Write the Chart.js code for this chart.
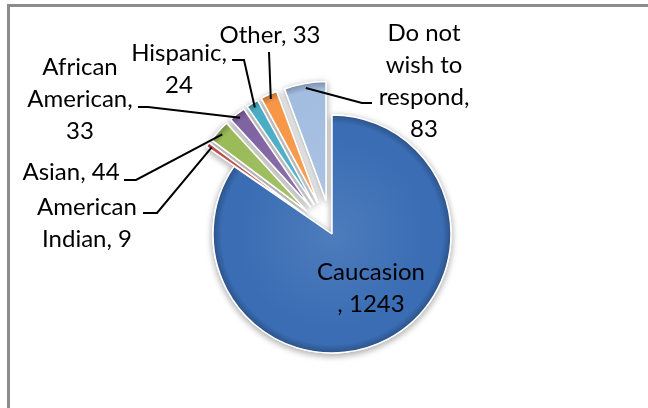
<!DOCTYPE html>
<html>
<head>
<meta charset="utf-8">
<script src="https://cdn.jsdelivr.net/npm/chart.js@4.4.1/dist/chart.umd.min.js"></script>
<style>
  body { margin: 0; background: #fff; }
  #wrap { position: relative; width: 648px; height: 408px; overflow: hidden; }
  #frame { position: absolute; left: 7px; top: 4px; width: 700px; height: 500px;
           border-left: 3px solid #8c8c8c; border-top: 3px solid #8c8c8c; }
  canvas { position: absolute; left: 0; top: 0; }
</style>
</head>
<body>
<div id="wrap"><div id="frame"></div><canvas id="myChart" width="648" height="408"></canvas></div>
<script>
var categories = ["Caucasion", "American Indian", "Asian", "African American", "Hispanic", "Other", "Do not wish to respond"];
var values = [1243, 9, 44, 33, 24, 33, 83];
var colors = ["#3A6DB4", "#C0504D", "#9BBB59", "#8064A2", "#4BACC6", "#F79646", "#A3BDE0"];

// label text, broken the way the original wraps it
var labelLines = [
  ["Caucasion", ", " + values[0]],
  ["American", "Indian, " + values[1]],
  ["Asian, " + values[2]],
  ["African", "American,", "" + values[3]],
  ["Hispanic,", "" + values[4]],
  ["Other, " + values[5]],
  ["Do not", "wish to", "respond,", "" + values[6]]
];

var pieRadius = 119;
var explodeGap = 34;
var lineH = 32;

// where each label sits, and the elbow of its leader line
var labelPos = [
  { x: 371, y: 272, lead: null },
  { x: 87, y: 207, lead: [[143, 213], [157, 213]] },
  { x: 71, y: 172, lead: [[124, 180], [136, 180]] },
  { x: 80, y: 67, lead: [[138, 107], [148, 107]] },
  { x: 179, y: 53, lead: [[232, 60], [244, 60]] },
  { x: 270, y: 35, lead: [[269, 52]] },
  { x: 424, y: 33, lead: [[372, 103], [362, 103]] }
];

function shade(hex, f) {
  var n = parseInt(hex.slice(1), 16);
  var r = n >> 16, g = (n >> 8) & 255, b = n & 255;
  var t = f < 0 ? 0 : 255, p = Math.abs(f);
  r = Math.round(r + (t - r) * p); g = Math.round(g + (t - g) * p); b = Math.round(b + (t - b) * p);
  return "rgb(" + r + "," + g + "," + b + ")";
}

function sliceFill(c) {
  var base = colors[c.dataIndex];
  var ca = c.chart.chartArea;
  if (!ca) return base;
  var cx = (ca.left + ca.right) / 2, cy = (ca.top + ca.bottom) / 2;
  var g = c.chart.ctx.createRadialGradient(cx, cy, 0, cx, cy, pieRadius);
  g.addColorStop(0, shade(base, 0.1));
  g.addColorStop(0.8, base);
  g.addColorStop(0.93, base);
  g.addColorStop(1, shade(base, -0.25));
  return g;
}

var explodePie = {
  id: "explodePie",
  beforeDatasetDraw: function(chart, args) {
    var ctx = chart.ctx;
    var arcs = args.meta.data;
    [true, false].forEach(function(shadow) {
      arcs.forEach(function(arc, i) {
        var mid = (arc.startAngle + arc.endAngle) / 2;
        var d = i === 0 ? 0 : explodeGap;
        ctx.save();
        if (shadow) {
          ctx.shadowColor = "rgba(0,0,0,0.35)";
          ctx.shadowBlur = 7;
          ctx.shadowOffsetY = 2;
        }
        ctx.translate(Math.cos(mid) * d, Math.sin(mid) * d);
        arc.draw(ctx);
        ctx.restore();
      });
    });
    return false;
  },
  afterDraw: function(chart) {
    var ctx = chart.ctx;
    var arcs = chart.getDatasetMeta(0).data;
    ctx.save();
    ctx.strokeStyle = "#000";
    ctx.lineWidth = 2;
    arcs.forEach(function(arc, i) {
      var p = labelPos[i];
      if (!p.lead) return;
      var mid = (arc.startAngle + arc.endAngle) / 2;
      var d = (i === 0 ? 0 : explodeGap) + arc.outerRadius * 0.96;
      ctx.beginPath();
      ctx.moveTo(p.lead[0][0], p.lead[0][1]);
      for (var k = 1; k < p.lead.length; k++) ctx.lineTo(p.lead[k][0], p.lead[k][1]);
      ctx.lineTo(arc.x + Math.cos(mid) * d, arc.y + Math.sin(mid) * d);
      ctx.stroke();
    });
    ctx.font = "24px Lato";
    ctx.fillStyle = "#000";
    ctx.textAlign = "center";
    ctx.textBaseline = "middle";
    labelLines.forEach(function(lines, i) {
      lines.forEach(function(t, k) {
        ctx.fillText(t, labelPos[i].x, labelPos[i].y + k * lineH);
      });
    });
    ctx.restore();
  }
};

var ctx1 = document.getElementById("myChart");
var chart1 = new Chart(ctx1, {
  type: "pie",
  data: {
    labels: categories,
    datasets: [{
      data: values,
      backgroundColor: sliceFill,
      borderColor: "#ffffff",
      borderWidth: 1.5
    }]
  },
  options: {
    responsive: false,
    animation: false,
    radius: pieRadius,
    layout: { padding: { left: 216, right: 200, top: 114, bottom: 54 } },
    plugins: {
      legend: { display: false },
      tooltip: { enabled: false }
    }
  },
  plugins: [explodePie]
});
</script>
</body>
</html>
